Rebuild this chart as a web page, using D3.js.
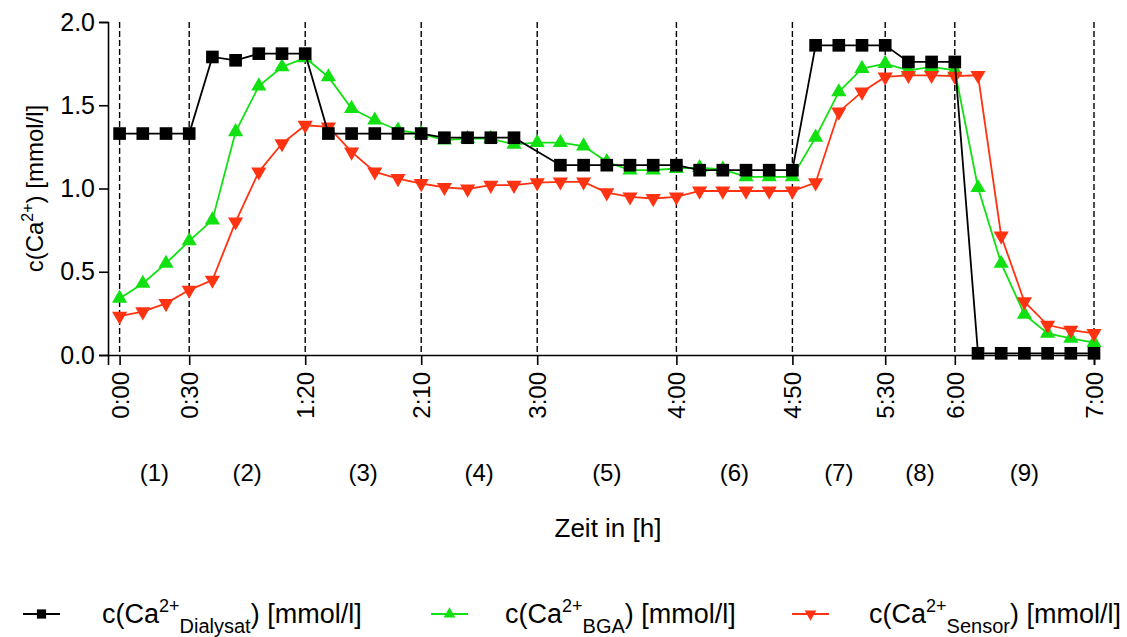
<!DOCTYPE html>
<html>
<head>
<meta charset="utf-8">
<script src="https://cdn.jsdelivr.net/npm/d3@7"></script>
<style>
  body { margin: 0; background: #fff; }
  svg { display: block; font-family: "Liberation Sans", Arial, sans-serif; }
</style>
</head>
<body>
<div id="chart"></div>
<script>
// time in minutes, one sample every 10 min
const minutes = [0, 10, 20, 30, 40, 50, 60, 70, 80, 90, 100, 110, 120, 130, 140, 150, 160, 170, 180, 190,
  200, 210, 220, 230, 240, 250, 260, 270, 280, 290, 300, 310, 320, 330, 340, 350, 360, 370, 380, 390,
  400, 410, 420];

const bgaValues = [0.34, 0.43, 0.55, 0.685, 0.81, 1.34, 1.615, 1.73, 1.785, 1.67, 1.48, 1.41, 1.35, 1.33,
  1.29, 1.30, 1.30, 1.265, 1.275, 1.275, 1.255, 1.16, 1.11, 1.11, 1.12, 1.125, 1.115, 1.07, 1.07, 1.07,
  1.307, 1.58, 1.72, 1.75, 1.71, 1.73, 1.71, 1.005, 0.55, 0.244, 0.13, 0.10, 0.074];

const sensorValues = [0.234, 0.26, 0.31, 0.39, 0.45, 0.80, 1.10, 1.27, 1.38, 1.37, 1.22, 1.10, 1.06, 1.03,
  1.007, 0.997, 1.02, 1.02, 1.035, 1.04, 1.04, 0.975, 0.95, 0.94, 0.95, 0.985, 0.985, 0.985, 0.985, 0.985,
  1.035, 1.46, 1.58, 1.67, 1.68, 1.68, 1.675, 1.68, 0.715, 0.32, 0.18, 0.15, 0.13];

// no dialysate sample at 3:00
const dialysatMinutes = [0, 10, 20, 30, 40, 50, 60, 70, 80, 90, 100, 110, 120, 130, 140, 150, 160, 170,
  190, 200, 210, 220, 230, 240, 250, 260, 270, 280, 290, 300, 310, 320, 330, 340, 350, 360,
  370, 380, 390, 400, 410, 420];
const dialysatValues = [1.33, 1.33, 1.33, 1.33, 1.79, 1.77, 1.81, 1.81, 1.81, 1.33, 1.33, 1.33, 1.33, 1.33,
  1.305, 1.305, 1.305, 1.305, 1.14, 1.14, 1.14, 1.14, 1.14, 1.14, 1.11, 1.11, 1.11, 1.11, 1.11,
  1.86, 1.86, 1.86, 1.86, 1.76, 1.76, 1.76, 0.01, 0.01, 0.01, 0.01, 0.01, 0.01];

const tickMinutes = [0, 30, 80, 130, 180, 240, 290, 330, 360, 420];
const tickLabels = ["0:00", "0:30", "1:20", "2:10", "3:00", "4:00", "4:50", "5:30", "6:00", "7:00"];
const phaseLabels = ["(1)", "(2)", "(3)", "(4)", "(5)", "(6)", "(7)", "(8)", "(9)"];
const yTicks = [0, 0.5, 1.0, 1.5, 2.0];

const GREEN = "#11e011";
const RED = "#ff3311";

const svg = d3.select("#chart").append("svg")
    .attr("width", 1127)
    .attr("height", 637);

const x = d3.scaleLinear().domain([-5, 420]).range([108, 1094]);
const y = d3.scaleLinear().domain([0, 2]).range([355, 22]);

// phase separators
svg.append("g")
    .selectAll("line")
    .data(tickMinutes)
    .join("line")
    .attr("x1", d => x(d)).attr("x2", d => x(d))
    .attr("y1", y(2)).attr("y2", y(0))
    .style("stroke", "#000")
    .style("stroke-width", 1.4)
    .style("stroke-dasharray", "6,3");

// axes
const yAxis = svg.append("g")
    .attr("transform", `translate(${x(-5)},0)`)
    .call(d3.axisLeft(y).tickValues(yTicks).tickFormat(d3.format(".1f")).tickSize(9).tickPadding(4));

const xAxis = svg.append("g")
    .attr("transform", `translate(0,${y(0)})`)
    .call(d3.axisBottom(x).tickValues(tickMinutes).tickFormat((d, i) => tickLabels[i]).tickSize(10));

[yAxis, xAxis].forEach(g => {
    g.select(".domain").style("stroke", "#000").style("stroke-width", 1.6);
    g.selectAll(".tick line").style("stroke", "#000").style("stroke-width", 1.6);
    g.selectAll("text").style("fill", "#000")
        .style("font-family", "'Liberation Sans', Arial, sans-serif");
});
yAxis.selectAll("text").style("font-size", "25px");
xAxis.selectAll("text").style("font-size", "24px");

xAxis.selectAll("text")
    .attr("transform", "rotate(-90)")
    .attr("x", -17).attr("y", 0).attr("dy", "0.35em")
    .style("text-anchor", "end");

// phase numbers between separators
svg.append("g")
    .selectAll("text")
    .data(phaseLabels)
    .join("text")
    .attr("x", (d, i) => x((tickMinutes[i] + tickMinutes[i + 1]) / 2))
    .attr("y", 481)
    .style("text-anchor", "middle")
    .style("font-size", "24px")
    .text(d => d);

svg.append("text")
    .attr("x", 608).attr("y", 537)
    .style("text-anchor", "middle")
    .style("font-size", "26px")
    .text("Zeit in [h]");

const yTitle = svg.append("text")
    .attr("transform", `translate(43,${y(1)}) rotate(-90)`)
    .style("text-anchor", "middle")
    .style("font-size", "24px");
yTitle.append("tspan").text("c(Ca");
yTitle.append("tspan").attr("dy", -10).style("font-size", "16px").text("2+");
yTitle.append("tspan").attr("dy", 10).text(") [mmol/l]");

// series
const line = d3.line().x(d => x(d[0])).y(d => y(d[1]));
const bgaData = minutes.map((m, i) => [m, bgaValues[i]]);
const sensorData = minutes.map((m, i) => [m, sensorValues[i]]);
const dialysatData = dialysatMinutes.map((m, i) => [m, dialysatValues[i]]);

const tri = d3.symbol().type(d3.symbolTriangle).size(100);
const square = d3.symbol().type(d3.symbolSquare).size(160);

function drawSeries(data, color, sym, rot) {
    svg.append("path")
        .datum(data)
        .attr("d", line)
        .style("fill", "none")
        .style("stroke", color)
        .style("stroke-width", 1.8);
    svg.append("g")
        .selectAll("path")
        .data(data)
        .join("path")
        .attr("d", sym)
        .attr("transform", d => `translate(${x(d[0])},${y(d[1])}) rotate(${rot})`)
        .style("fill", color);
}

drawSeries(bgaData, GREEN, tri, 0);
drawSeries(sensorData, RED, tri, 180);
drawSeries(dialysatData, "#000", square, 0);

// legend
const legendItems = [
    {color: "#000", sym: d3.symbol().type(d3.symbolSquare).size(85), rot: 0, x0: 23, x1: 60, tx: 102, sub: "Dialysat"},
    {color: GREEN, sym: d3.symbol().type(d3.symbolTriangle).size(60), rot: 0, x0: 431, x1: 468, tx: 505, sub: "BGA"},
    {color: RED, sym: d3.symbol().type(d3.symbolTriangle).size(60), rot: 180, x0: 792, x1: 829, tx: 869, sub: "Sensor"}
];
const legend = svg.append("g").selectAll("g").data(legendItems).join("g");
legend.append("line")
    .attr("x1", d => d.x0).attr("x2", d => d.x1)
    .attr("y1", 614).attr("y2", 614)
    .style("stroke", d => d.color)
    .style("stroke-width", 1.8);
legend.append("path")
    .attr("d", d => d.sym())
    .attr("transform", d => `translate(${(d.x0 + d.x1) / 2},614) rotate(${d.rot})`)
    .style("fill", d => d.color);
const lt = legend.append("text")
    .attr("x", d => d.tx).attr("y", 623)
    .style("font-size", "27px");
lt.append("tspan").text("c(Ca");
lt.append("tspan").attr("dy", -11).style("font-size", "18px").text("2+");
lt.append("tspan").attr("dy", 21).style("font-size", "20px").text(d => d.sub);
lt.append("tspan").attr("dy", -10).text(") [mmol/l]");
</script>
</body>
</html>
